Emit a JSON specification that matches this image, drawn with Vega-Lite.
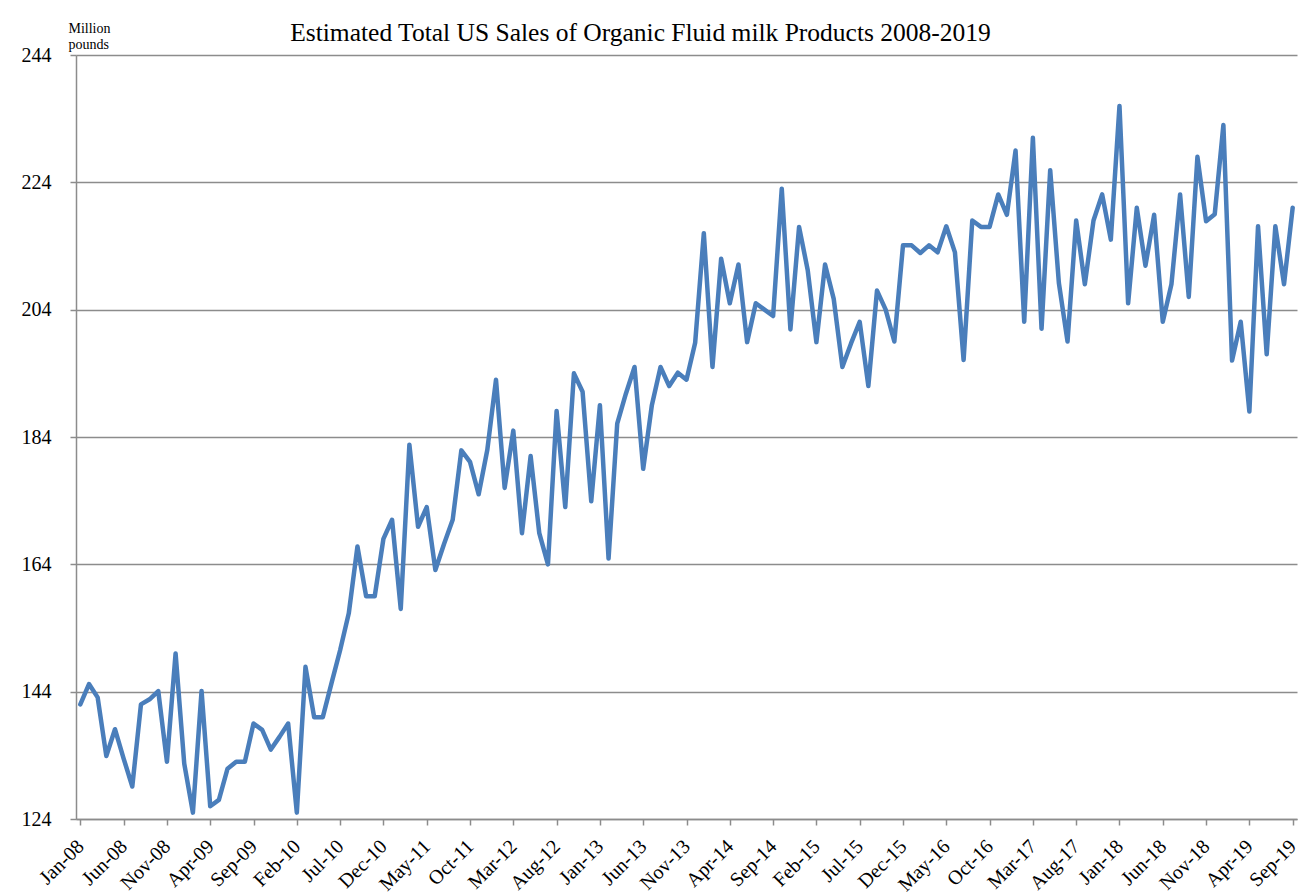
{
  "$schema": "https://vega.github.io/schema/vega-lite/v6.json",
  "width": 1221,
  "height": 764,
  "autosize": {"type": "none"},
  "padding": {"left": 76, "top": 55, "right": 15, "bottom": 77},
  "background": "white",
  "title": {
    "text": "Estimated Total US Sales of Organic Fluid milk Products 2008-2019",
    "font": "Liberation Serif",
    "fontSize": 25.5,
    "fontWeight": "normal",
    "color": "black",
    "anchor": "middle",
    "dx": -46,
    "offset": -25
  },
  "data": {
    "values": [
      {"month": "Jan-08", "sales": 142.0}, {"month": "Feb-08", "sales": 145.2}, {"month": "Mar-08", "sales": 143.1}, {"month": "Apr-08", "sales": 133.9}, {"month": "May-08", "sales": 138.1}, {"month": "Jun-08", "sales": 133.5}, {"month": "Jul-08", "sales": 129.1}, {"month": "Aug-08", "sales": 142.0}, {"month": "Sep-08", "sales": 142.8}, {"month": "Oct-08", "sales": 144.1}, {"month": "Nov-08", "sales": 133.0}, {"month": "Dec-08", "sales": 150.0},
      {"month": "Jan-09", "sales": 132.7}, {"month": "Feb-09", "sales": 125.0}, {"month": "Mar-09", "sales": 144.1}, {"month": "Apr-09", "sales": 126.0}, {"month": "May-09", "sales": 127.0}, {"month": "Jun-09", "sales": 131.9}, {"month": "Jul-09", "sales": 133.0}, {"month": "Aug-09", "sales": 133.0}, {"month": "Sep-09", "sales": 139.0}, {"month": "Oct-09", "sales": 138.0}, {"month": "Nov-09", "sales": 134.9}, {"month": "Dec-09", "sales": 136.9},
      {"month": "Jan-10", "sales": 139.0}, {"month": "Feb-10", "sales": 125.0}, {"month": "Mar-10", "sales": 147.9}, {"month": "Apr-10", "sales": 140.0}, {"month": "May-10", "sales": 140.0}, {"month": "Jun-10", "sales": 145.3}, {"month": "Jul-10", "sales": 150.5}, {"month": "Aug-10", "sales": 156.3}, {"month": "Sep-10", "sales": 166.8}, {"month": "Oct-10", "sales": 159.0}, {"month": "Nov-10", "sales": 159.0}, {"month": "Dec-10", "sales": 168.0},
      {"month": "Jan-11", "sales": 171.0}, {"month": "Feb-11", "sales": 157.0}, {"month": "Mar-11", "sales": 182.8}, {"month": "Apr-11", "sales": 169.9}, {"month": "May-11", "sales": 173.0}, {"month": "Jun-11", "sales": 163.1}, {"month": "Jul-11", "sales": 167.2}, {"month": "Aug-11", "sales": 171.0}, {"month": "Sep-11", "sales": 181.9}, {"month": "Oct-11", "sales": 180.1}, {"month": "Nov-11", "sales": 175.0}, {"month": "Dec-11", "sales": 182.0},
      {"month": "Jan-12", "sales": 193.0}, {"month": "Feb-12", "sales": 176.0}, {"month": "Mar-12", "sales": 185.0}, {"month": "Apr-12", "sales": 168.9}, {"month": "May-12", "sales": 181.0}, {"month": "Jun-12", "sales": 168.9}, {"month": "Jul-12", "sales": 164.0}, {"month": "Aug-12", "sales": 188.1}, {"month": "Sep-12", "sales": 173.0}, {"month": "Oct-12", "sales": 194.0}, {"month": "Nov-12", "sales": 191.1}, {"month": "Dec-12", "sales": 173.9},
      {"month": "Jan-13", "sales": 189.0}, {"month": "Feb-13", "sales": 164.9}, {"month": "Mar-13", "sales": 186.1}, {"month": "Apr-13", "sales": 190.8}, {"month": "May-13", "sales": 195.0}, {"month": "Jun-13", "sales": 179.0}, {"month": "Jul-13", "sales": 189.0}, {"month": "Aug-13", "sales": 195.0}, {"month": "Sep-13", "sales": 192.0}, {"month": "Oct-13", "sales": 194.1}, {"month": "Nov-13", "sales": 193.0}, {"month": "Dec-13", "sales": 198.8},
      {"month": "Jan-14", "sales": 216.0}, {"month": "Feb-14", "sales": 195.0}, {"month": "Mar-14", "sales": 212.0}, {"month": "Apr-14", "sales": 205.0}, {"month": "May-14", "sales": 211.1}, {"month": "Jun-14", "sales": 198.9}, {"month": "Jul-14", "sales": 205.0}, {"month": "Aug-14", "sales": 204.0}, {"month": "Sep-14", "sales": 203.0}, {"month": "Oct-14", "sales": 223.0}, {"month": "Nov-14", "sales": 200.9}, {"month": "Dec-14", "sales": 217.0},
      {"month": "Jan-15", "sales": 210.2}, {"month": "Feb-15", "sales": 198.9}, {"month": "Mar-15", "sales": 211.1}, {"month": "Apr-15", "sales": 205.7}, {"month": "May-15", "sales": 195.0}, {"month": "Jun-15", "sales": 198.7}, {"month": "Jul-15", "sales": 202.1}, {"month": "Aug-15", "sales": 192.0}, {"month": "Sep-15", "sales": 207.0}, {"month": "Oct-15", "sales": 204.0}, {"month": "Nov-15", "sales": 199.0}, {"month": "Dec-15", "sales": 214.1},
      {"month": "Jan-16", "sales": 214.1}, {"month": "Feb-16", "sales": 212.9}, {"month": "Mar-16", "sales": 214.1}, {"month": "Apr-16", "sales": 213.0}, {"month": "May-16", "sales": 217.1}, {"month": "Jun-16", "sales": 213.0}, {"month": "Jul-16", "sales": 196.1}, {"month": "Aug-16", "sales": 218.0}, {"month": "Sep-16", "sales": 217.0}, {"month": "Oct-16", "sales": 217.0}, {"month": "Nov-16", "sales": 222.1}, {"month": "Dec-16", "sales": 218.9},
      {"month": "Jan-17", "sales": 229.0}, {"month": "Feb-17", "sales": 202.1}, {"month": "Mar-17", "sales": 231.0}, {"month": "Apr-17", "sales": 201.0}, {"month": "May-17", "sales": 225.9}, {"month": "Jun-17", "sales": 208.2}, {"month": "Jul-17", "sales": 199.0}, {"month": "Aug-17", "sales": 218.0}, {"month": "Sep-17", "sales": 208.0}, {"month": "Oct-17", "sales": 218.0}, {"month": "Nov-17", "sales": 222.1}, {"month": "Dec-17", "sales": 215.0},
      {"month": "Jan-18", "sales": 236.0}, {"month": "Feb-18", "sales": 205.0}, {"month": "Mar-18", "sales": 220.0}, {"month": "Apr-18", "sales": 210.9}, {"month": "May-18", "sales": 218.9}, {"month": "Jun-18", "sales": 202.1}, {"month": "Jul-18", "sales": 208.0}, {"month": "Aug-18", "sales": 222.1}, {"month": "Sep-18", "sales": 206.0}, {"month": "Oct-18", "sales": 228.0}, {"month": "Nov-18", "sales": 217.9}, {"month": "Dec-18", "sales": 219.0},
      {"month": "Jan-19", "sales": 233.0}, {"month": "Feb-19", "sales": 196.0}, {"month": "Mar-19", "sales": 202.1}, {"month": "Apr-19", "sales": 188.0}, {"month": "May-19", "sales": 217.1}, {"month": "Jun-19", "sales": 197.0}, {"month": "Jul-19", "sales": 217.1}, {"month": "Aug-19", "sales": 208.0}, {"month": "Sep-19", "sales": 220.0}
    ]
  },
  "mark": {"type": "line", "color": "#4a7ebb", "strokeWidth": 4.5, "strokeJoin": "round", "strokeCap": "round"},
  "encoding": {
    "x": {
      "field": "month",
      "type": "ordinal",
      "sort": null,
      "scale": {"type": "point", "padding": 0.5},
      "axis": {
        "values": ["Jan-08", "Jun-08", "Nov-08", "Apr-09", "Sep-09", "Feb-10", "Jul-10", "Dec-10", "May-11", "Oct-11", "Mar-12", "Aug-12", "Jan-13", "Jun-13", "Nov-13", "Apr-14", "Sep-14", "Feb-15", "Jul-15", "Dec-15", "May-16", "Oct-16", "Mar-17", "Aug-17", "Jan-18", "Jun-18", "Nov-18", "Apr-19", "Sep-19"],
        "title": null,
        "grid": false,
        "labelAngle": -45,
        "labelAlign": "right",
        "labelBaseline": "middle",
        "labelFont": "Liberation Serif",
        "labelFontSize": 20,
        "labelColor": "black",
        "labelPadding": 18,
        "domainColor": "#8c8c8c",
        "domainWidth": 1.5,
        "tickColor": "#8c8c8c",
        "tickSize": 6,
        "tickWidth": 1.5
      }
    },
    "y": {
      "field": "sales",
      "type": "quantitative",
      "scale": {"domain": [124, 244], "nice": false, "zero": false},
      "axis": {
        "values": [124, 144, 164, 184, 204, 224, 244],
        "grid": true,
        "gridColor": "#8c8c8c",
        "gridWidth": 1.5,
        "domainColor": "#8c8c8c",
        "domainWidth": 1.5,
        "tickColor": "#8c8c8c",
        "tickSize": 6,
        "tickWidth": 1.5,
        "labelFont": "Liberation Serif",
        "labelFontSize": 20,
        "labelColor": "black",
        "labelPadding": 19,
        "title": ["Million", "pounds"],
        "titleAngle": 0,
        "titleX": -8,
        "titleY": -23,
        "titleAlign": "left",
        "titleBaseline": "alphabetic",
        "titleFont": "Liberation Serif",
        "titleFontSize": 14,
        "titleFontWeight": "normal",
        "titleLineHeight": 16,
        "titleColor": "black"
      }
    }
  },
  "config": {"view": {"stroke": null}}
}
